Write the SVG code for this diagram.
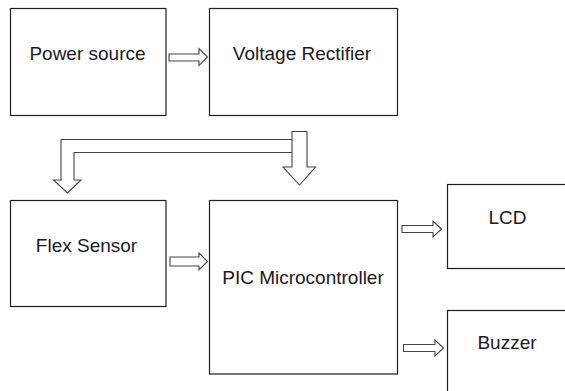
<svg xmlns="http://www.w3.org/2000/svg" width="565" height="391" viewBox="0 0 565 391">
<style>
.box{fill:#fff;stroke:#1e1e1e;stroke-width:1.2}
.lbl{font-family:"Liberation Sans",Arial,sans-serif;font-size:19px;fill:#1a1a1a;text-anchor:middle}
.arr{fill:#fff;stroke:#444;stroke-width:1.1;stroke-linejoin:miter}
</style>
<rect width="565" height="391" fill="#fff"/>
<g id="connectors">
<polygon class="arr" points="169,54 199,54 199,48.5 207.5,57 199,65.5 199,61 169,61"/>
<polyline class="arr" points="292,152.5 74,152.5 74,180 81,180 67.5,193 53.5,180 61,180 61,139.5 292,139.5"/>
<polygon class="arr" points="292,131.5 307,131.5 307,167 315.5,167 299.5,185 283,167 292,167"/>
<polygon class="arr" points="170,257 199,257 199,253 207.5,261.5 199,270 199,266 170,266"/>
<polygon class="arr" points="402,225.5 433,225.5 433,221 441.5,229 433,237 433,232.5 402,232.5"/>
<polygon class="arr" points="403.5,344.5 435,344.5 435,340 443.5,348 435,356 435,351.5 403.5,351.5"/>
</g>
<g id="power-source">
<rect class="box" x="10.5" y="8.5" width="155.5" height="107"/>
<text class="lbl" x="87.5" y="60">Power source</text>
</g>
<g id="voltage-rectifier">
<rect class="box" x="209.5" y="8.5" width="188" height="107"/>
<text class="lbl" x="302" y="60">Voltage Rectifier</text>
</g>
<g id="flex-sensor">
<rect class="box" x="10.5" y="200.5" width="155.5" height="106"/>
<text class="lbl" x="86.5" y="251.5">Flex Sensor</text>
</g>
<g id="pic-microcontroller">
<rect class="box" x="209.5" y="200.5" width="188" height="173.5"/>
<text class="lbl" x="303" y="283.5">PIC Microcontroller</text>
</g>
<g id="lcd">
<rect class="box" x="447.5" y="184.5" width="130" height="84"/>
<text class="lbl" x="507.5" y="223.5">LCD</text>
</g>
<g id="buzzer">
<rect class="box" x="447.5" y="310.5" width="130" height="100"/>
<text class="lbl" x="507" y="348.5">Buzzer</text>
</g>
</svg>
